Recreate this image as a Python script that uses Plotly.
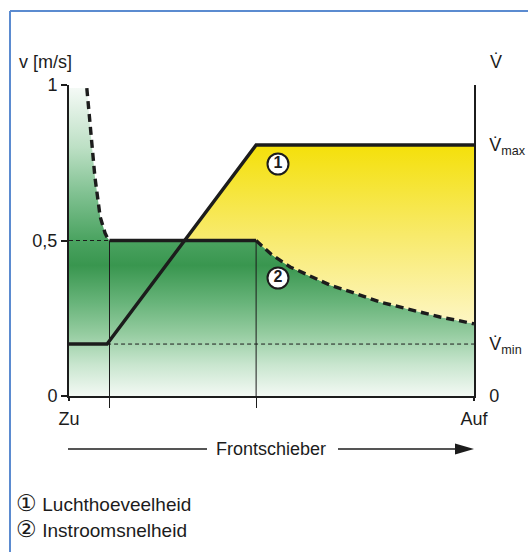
import numpy as np
import plotly.graph_objects as go

# Frontschieber-stand: 0 = Zu, 1 = Auf

# Instroomsnelheid v (gestippelde curve + vlak middenstuk)
v_links_x = [0.044, 0.052, 0.064, 0.077, 0.089, 0.095, 0.100]
v_links_y = [0.990, 0.865, 0.704, 0.576, 0.524, 0.508, 0.500]
v_midden_x = [0.100, 0.462]
v_midden_y = [0.500, 0.500]
v_rechts_x = [0.462, 0.500, 0.546, 0.590, 0.644, 0.700, 0.768, 0.830, 0.916, 0.960, 1.000]
v_rechts_y = [0.500, 0.455, 0.415, 0.388, 0.357, 0.333, 0.302, 0.282, 0.254, 0.243, 0.232]

# Luchthoeveelheid
lucht_x = [0.000, 0.094, 0.462, 1.000]
lucht_y = [0.167, 0.167, 0.807, 0.807]

V_MIN = 0.167
V_MAX = 0.807
hulplijnen_x = [0.100, 0.462]

v_ticks = [0, 0.5, 1]
v_ticktext = ["0", "0,5", "1"]
q_ticks = [0, V_MIN, V_MAX]
q_ticktext = ["0", "V\u0307<sub>min</sub>", "V\u0307<sub>max</sub>"]
x_ticks = [0, 1]
x_ticktext = ["Zu", "Auf"]

FONT = "Liberation Sans, Arial, sans-serif"
INK = "#1c1c1c"
BLUE = "#5b8bd0"

# plotgebied in pixels: x 69..474, y 85..396
def px_x(p):
    return (p - 69) / 405


def px_y(p):
    return (396 - p) / 311


fig = go.Figure()

# --- groen vlak onder de instroomsnelheid ---
groen_x = [0.0] + v_links_x + v_rechts_x
groen_y = [v_links_y[0]] + v_links_y + v_rechts_y
fig.add_trace(go.Scatter(
    x=groen_x, y=groen_y, mode="none", fill="tozeroy",
    fillgradient=dict(
        type="vertical", start=0, stop=1,
        colorscale=[[0, "#f3f9f4"], [0.1, "#c9e6cf"], [0.2, "#95cca0"],
                    [0.3, "#68b47a"], [0.42, "#39964f"], [0.5, "#4aa360"],
                    [0.65, "#80c191"], [0.8, "#bde0c5"], [1, "#f7fbf8"]],
    ),
    showlegend=False, hoverinfo="skip",
))

# --- geel vlak tussen luchthoeveelheid en instroomsnelheid ---
kruis_x = float(np.interp(0.5, lucht_y[1:3], lucht_x[1:3]))
geel_x = [kruis_x] + lucht_x[2:] + v_rechts_x[::-1] + [kruis_x]
geel_y = [0.5] + lucht_y[2:] + v_rechts_y[::-1] + [0.5]
fig.add_trace(go.Scatter(
    x=geel_x, y=geel_y, mode="none", fill="toself",
    fillgradient=dict(
        type="vertical", start=min(v_rechts_y), stop=V_MAX,
        colorscale=[[0, "#fdf6c4"], [0.5, "#f8ea6a"], [1, "#f4e00a"]],
    ),
    showlegend=False, hoverinfo="skip",
))

# --- hulplijnen ---
fig.add_trace(go.Scatter(
    x=[0, v_midden_x[0]], y=[0.5, 0.5], mode="lines",
    line=dict(color=INK, width=1, dash="4px,3px"), showlegend=False, hoverinfo="skip",
))
fig.add_trace(go.Scatter(
    x=[lucht_x[1], 1], y=[V_MIN, V_MIN], mode="lines",
    line=dict(color=INK, width=1, dash="4px,3px"), showlegend=False, hoverinfo="skip",
))
for hx in hulplijnen_x:
    fig.add_trace(go.Scatter(
        x=[hx, hx], y=[0, 0.5], mode="lines",
        line=dict(color=INK, width=1), showlegend=False, hoverinfo="skip",
    ))

# --- luchthoeveelheid ---
fig.add_trace(go.Scatter(
    x=lucht_x, y=lucht_y, mode="lines",
    line=dict(color=INK, width=3.4), showlegend=False, hoverinfo="skip",
))

# --- instroomsnelheid ---
for xs, ys, dash in [(v_links_x, v_links_y, "8px,5px"),
                     (v_midden_x, v_midden_y, "solid"),
                     (v_rechts_x, v_rechts_y, "8px,5px")]:
    fig.add_trace(go.Scatter(
        x=xs, y=ys, mode="lines",
        line=dict(color=INK, width=3.4, dash=dash),
        showlegend=False, hoverinfo="skip",
    ))

# --- genummerde labels ---
fig.add_trace(go.Scatter(
    x=[px_x(278), px_x(278)], y=[px_y(164), px_y(278)],
    mode="markers+text", text=["<b>1</b>", "<b>2</b>"],
    textposition="middle center",
    textfont=dict(family=FONT, size=16, color=INK),
    marker=dict(size=21, color="white", line=dict(color=INK, width=2)),
    showlegend=False, hoverinfo="skip",
))

# y2-as voor de debietlabels rechts
fig.add_trace(go.Scatter(x=[0], y=[0], yaxis="y2", mode="none",
                         showlegend=False, hoverinfo="skip"))

CIRKEL = '<span style="font-size:23px">{}</span>'
annotations = [
    dict(text="v [m/s]", x=px_x(17), y=px_y(62), xanchor="left"),
    dict(text="V\u0307", x=px_x(488), y=px_y(62), xanchor="left"),
    dict(text="Frontschieber", x=px_x(271), y=px_y(449)),
    dict(text=CIRKEL.format("\u2460") + " Luchthoeveelheid", x=px_x(14), y=px_y(503),
         xanchor="left", font=dict(family=FONT, size=19, color=INK)),
    dict(text=CIRKEL.format("\u2461") + " Instroomsnelheid", x=px_x(14), y=px_y(529),
         xanchor="left", font=dict(family=FONT, size=19, color=INK)),
]
for a in annotations:
    a.setdefault("font", dict(family=FONT, size=18, color=INK))
    a.update(xref="paper", yref="paper", showarrow=False, yanchor="middle")

ay = px_y(449)
shapes = [
    # kader
    dict(type="line", x0=px_x(10), x1=px_x(528), y0=px_y(11), y1=px_y(11),
         line=dict(color=BLUE, width=2)),
    dict(type="line", x0=px_x(10), x1=px_x(10), y0=px_y(11), y1=px_y(560),
         line=dict(color=BLUE, width=2)),
    # pijl Frontschieber
    dict(type="line", x0=px_x(68), x1=px_x(207), y0=ay, y1=ay,
         line=dict(color=INK, width=1.5)),
    dict(type="line", x0=px_x(338), x1=px_x(458), y0=ay, y1=ay,
         line=dict(color=INK, width=1.5)),
    dict(type="path", line=dict(width=0), fillcolor=INK,
         path=f"M {px_x(455)},{ay + 5.5/311} L {px_x(474)},{ay} L {px_x(455)},{ay - 5.5/311} Z"),
]
for s in shapes:
    s.update(xref="paper", yref="paper", layer="above")

fig.update_layout(
    width=528, height=552,
    margin=dict(l=69, r=54, t=85, b=156, autoexpand=False),
    paper_bgcolor="white", plot_bgcolor="white",
    font=dict(family=FONT, size=18, color=INK),
    showlegend=False,
    xaxis=dict(
        range=[0, 1], showgrid=False, zeroline=False,
        showline=True, linecolor=INK, linewidth=2,
        tickvals=x_ticks, ticktext=x_ticktext,
        ticks="outside", ticklen=3, tickwidth=2, tickcolor=INK,
        ticklabelstandoff=2,
        minor=dict(tickvals=hulplijnen_x, ticks="outside", ticklen=10,
                   tickwidth=1, tickcolor=INK, showgrid=False),
        fixedrange=True,
    ),
    yaxis=dict(
        range=[0, 1], showgrid=False, zeroline=False,
        showline=True, linecolor=INK, linewidth=2,
        tickvals=v_ticks, ticktext=v_ticktext,
        ticks="outside", ticklen=6, tickwidth=1.5, tickcolor=INK,
        fixedrange=True,
    ),
    yaxis2=dict(
        range=[0, 1], overlaying="y", side="right",
        showgrid=False, zeroline=False,
        showline=True, linecolor=INK, linewidth=1.5,
        tickvals=q_ticks, ticktext=q_ticktext, ticks="",
        ticklabelstandoff=10, fixedrange=True,
    ),
    annotations=annotations,
    shapes=shapes,
)

fig.write_html("out.html",
               config={"displayModeBar": False},
               post_script="document.body.style.margin='0';"
                           "document.body.style.overflow='hidden';")
